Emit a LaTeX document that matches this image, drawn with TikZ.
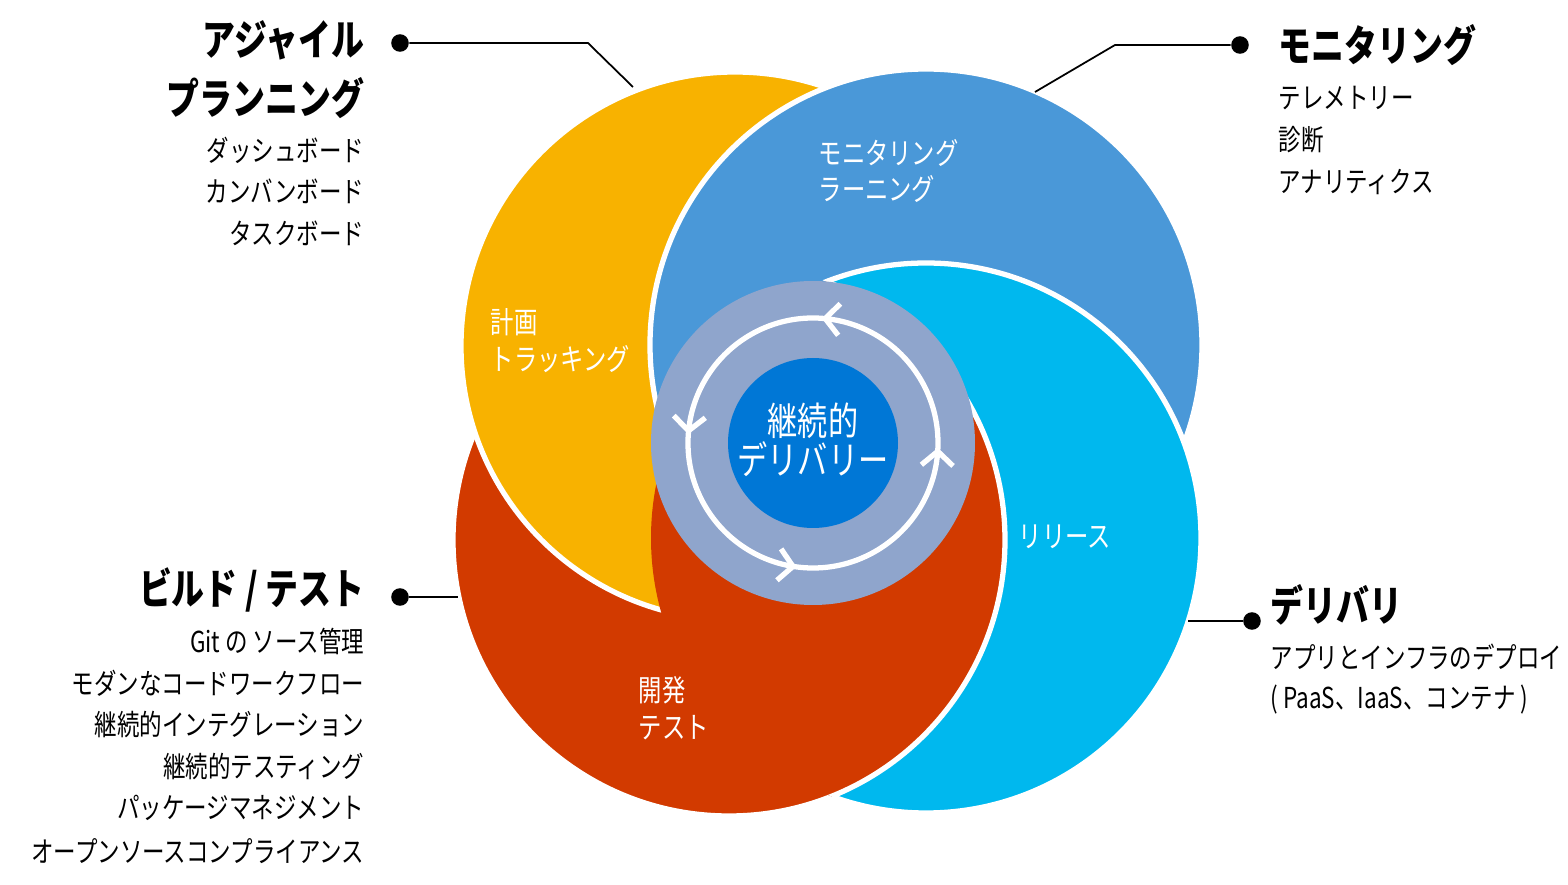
\documentclass[tikz,border=0pt]{standalone}
\usepackage{fontspec}
\setmainfont{Noto Sans CJK JP}[FakeStretch=0.78]
\usetikzlibrary{arrows.meta,decorations.markings}
\definecolor{cyel}{HTML}{F8B200}
\definecolor{cblu}{HTML}{4A98D8}
\definecolor{ccya}{HTML}{00B8EE}
\definecolor{cred}{HTML}{D23A00}
\definecolor{cring}{HTML}{8FA5CC}
\definecolor{ccore}{HTML}{0077D6}
\tikzset{
  petal/.style={draw=white,line width=1.5pt},
  lead/.style={draw=black,line width=0.5pt},
  dotm/.style={circle,fill=black,inner sep=0pt,minimum size=5pt},
  head/.style={font=\bfseries\fontsize{12}{14}\selectfont,inner sep=0pt},
  item/.style={font=\fontsize{8.2}{10}\selectfont,inner sep=0pt},
  inl/.style={font=\fontsize{8.5}{10.5}\selectfont,text=white,inner sep=0pt,anchor=west,align=left},
  chev/.style={decoration={markings,
   mark=at position 0.005 with {\arrow{Straight Barb[length=4pt,width=9pt,line width=1.5pt]}},
   mark=at position 0.25 with {\arrow{Straight Barb[length=4pt,width=9pt,line width=1.5pt]}},
   mark=at position 0.5 with {\arrow{Straight Barb[length=4pt,width=9pt,line width=1.5pt]}},
   mark=at position 0.74 with {\arrow{Straight Barb[length=4pt,width=9pt,line width=1.5pt]}}},
  postaction={decorate}}
}
\begin{document}
\begin{tikzpicture}[x=0.01cm,y=-0.01cm]
\useasboundingbox (0,0) rectangle (1568,885);
% circles
\fill[ccya,petal] (926,538) circle (275);
\fill[cred,petal] (729,540) circle (276);
\fill[cyel,petal] (735,346) circle (274);
\fill[cblu,petal] (926,345) circle (276);
\begin{scope}[even odd rule]
 \clip (0,0) rectangle (1568,885) (729,540) circle (276);
 \fill[ccya,petal] (926,538) circle (275);
\end{scope}
\begin{scope}
 \clip (926,538) circle (275);
 \fill[cred,petal] (729,540) circle (276);
\end{scope}
% centre
\fill[cring] (813,443) circle (162);
\draw[white,line width=1.5pt,chev]
  (813,443) ++(4:125) arc[start angle=4,end angle=-356,radius=125];
\fill[ccore] (813,443) circle (85);
\node[font=\fontsize{11}{13}\selectfont,text=white,align=center] (core) at (813,440) {継続的\\[-2pt]デリバリー};
% inner labels
\node[inl] (l1) at (490,341) {計画\\トラッキング};
\node[inl] (l2) at (818,171) {モニタリング\\ラーニング};
\node[inl] (l3) at (1018,537) {リリース};
\node[inl] (l4) at (638,708) {開発\\テスト};
% top left
\node[head,anchor=east] (h1a) at (365,40) {アジャイル};
\node[head,anchor=east] (h1b) at (365,98) {プランニング};
\node[item,anchor=east] at (365,150) {ダッシュボード};
\node[item,anchor=east] at (365,191) {カンバンボード};
\node[item,anchor=east] at (365,233) {タスクボード};
\node[dotm] (d1) at (400,43) {};
\coordinate (e1) at (633,87);
\draw[lead] (d1) -- (588,43) -- (e1);
% top right
\node[head,anchor=west] at (1278,45) {モニタリング};
\node[item,anchor=west] at (1278,98) {テレメトリー};
\node[item,anchor=west] at (1278,140) {診断};
\node[item,anchor=west] at (1278,182) {アナリティクス};
\node[dotm] (d2) at (1240,45) {};
\coordinate (e2) at (1035,92);
\draw[lead] (d2) -- (1115,45) -- (e2);
% bottom left
\node[head,anchor=east] at (365,590) {ビルド / テスト};
\node[item,anchor=east] at (365,641) {Git の ソース管理};
\node[item,anchor=east] at (365,683) {モダンなコードワークフロー};
\node[item,anchor=east] at (365,725) {継続的インテグレーション};
\node[item,anchor=east] at (365,767) {継続的テスティング};
\node[item,anchor=east] at (365,808) {パッケージマネジメント};
\node[item,anchor=east] at (365,851) {オープンソースコンプライアンス};
\node[dotm] (d3) at (400,597) {};
\coordinate (e3) at (458,597);
\draw[lead] (d3) -- (e3);
% bottom right
\node[head,anchor=west] at (1270,605) {デリバリ};
\node[item,anchor=west] at (1270,657) {アプリとインフラのデプロイ};
\node[item,anchor=west] at (1270,700) {( PaaS、IaaS、コンテナ )};
\node[dotm] (d4) at (1252,621) {};
\coordinate (e4) at (1188,621);
\draw[lead] (d4) -- (e4);
\end{tikzpicture}
\end{document}
